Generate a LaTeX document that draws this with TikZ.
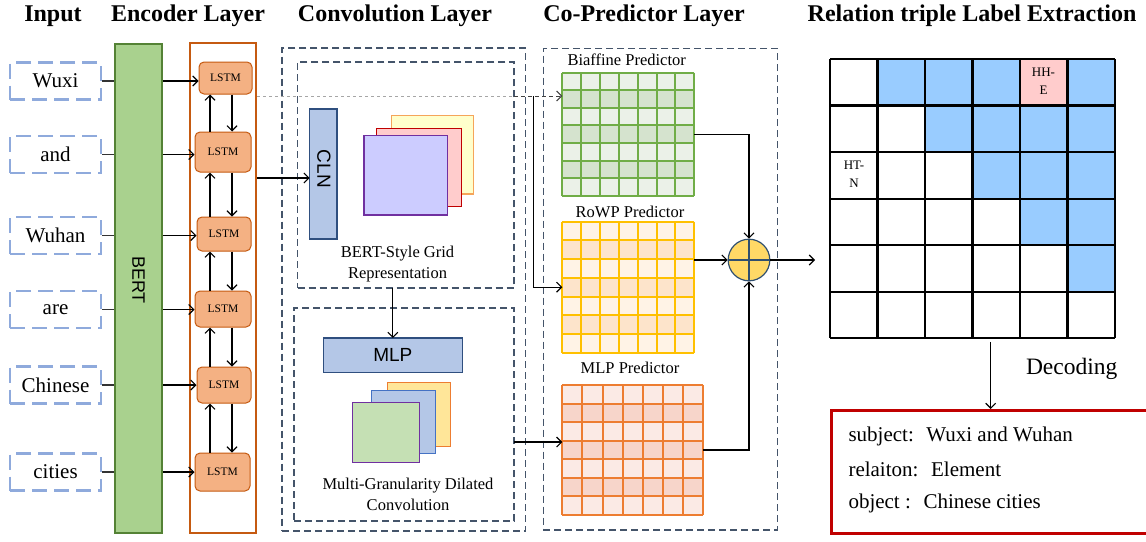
\documentclass[tikz,border=0pt]{standalone}
\usepackage{fontspec}
\setmainfont{Liberation Serif}
\setsansfont{Liberation Sans}
\usetikzlibrary{arrows.meta,calc}
\definecolor{inblue}{HTML}{8FAADC}
\definecolor{bertfill}{HTML}{A9D18E}
\definecolor{bertdraw}{HTML}{548235}
\definecolor{encor}{HTML}{C55A11}
\definecolor{lstmfill}{HTML}{F4B183}
\definecolor{navy}{HTML}{44546A}
\definecolor{clnfill}{HTML}{B4C7E7}
\definecolor{clndraw}{HTML}{2F4F7F}
\definecolor{yelfill}{HTML}{FFFFCC}
\definecolor{yeldraw}{HTML}{F5A55A}
\definecolor{pinkfill}{HTML}{FFCCCC}
\definecolor{reddraw}{HTML}{C00000}
\definecolor{purfill}{HTML}{CCCCFF}
\definecolor{purdraw}{HTML}{7030A0}
\definecolor{orfill}{HTML}{FFE699}
\definecolor{ordraw}{HTML}{ED7D31}
\definecolor{bluedraw}{HTML}{4472C4}
\definecolor{grnfill}{HTML}{C5E0B4}
\definecolor{bialine}{HTML}{70AD47}
\definecolor{bialight}{HTML}{EBF1E8}
\definecolor{biadark}{HTML}{D5E3CE}
\definecolor{rowline}{HTML}{FFC000}
\definecolor{rowlight}{HTML}{FFF3E6}
\definecolor{rowdark}{HTML}{FDE4CB}
\definecolor{mlpline}{HTML}{ED7D31}
\definecolor{mlplight}{HTML}{FBEAE5}
\definecolor{mlpdark}{HTML}{F7D5CA}
\definecolor{plusfill}{HTML}{FFD966}
\definecolor{plusdraw}{HTML}{2F4F6F}
\definecolor{cellblue}{HTML}{99CCFF}
\definecolor{cellpink}{HTML}{FFCCCC}
\newcommand\predgrid[8]{%
  \node[inner sep=0, outer sep=0, minimum width={#4-#2}, minimum height={#5-#3}, anchor=north west] (#1) at (#2,#3) {};
  \fill[#7] (#2,#3) rectangle (#4,#5);
  \foreach \i in {1,3,5}{\fill[#8] (#2,{#3+(#5-#3)*\i/7}) rectangle (#4,{#3+(#5-#3)*(\i+1)/7});}
  \foreach \i in {0,...,7}{
    \draw[#6, line width=2] ({#2+(#4-#2)*\i/7},#3) -- ({#2+(#4-#2)*\i/7},#5);
    \draw[#6, line width=2] (#2,{#3+(#5-#3)*\i/7}) -- (#4,{#3+(#5-#3)*\i/7});
  }
}
\begin{document}
\begin{tikzpicture}[x=1pt,y=-1pt,
  ttl/.style={font=\fontsize{24}{28}\selectfont\bfseries, anchor=base, inner sep=0},
  inbox/.style={draw=inblue, line width=2.2, dash pattern=on 15pt off 7pt, minimum width=91, minimum height=37, inner sep=0, font=\fontsize{21}{24}\selectfont},
  lstmbox/.style={draw=encor, fill=lstmfill, rounded corners=5, line width=1, inner sep=0, font=\fontsize{11.5}{13}\selectfont},
  arr/.style={-{Straight Barb[length=5pt,width=10pt]}, line width=1.1, black},
  ln/.style={line width=1.1, black!80},
  navybox/.style={draw=navy, line width=1.3, dash pattern=on 7pt off 4pt},
  shp/.style={inner sep=0, outer sep=0, anchor=north west, line width=1.2},
  lbl/.style={font=\fontsize{16.5}{21}\selectfont, align=center, inner sep=0},
  sflbl/.style={font=\sffamily\fontsize{19}{22}\selectfont, inner sep=0},
  cellt/.style={font=\fontsize{13}{18}\selectfont, align=center, inner sep=0},
  restxt/.style={font=\fontsize{21}{24}\selectfont, anchor=west, inner sep=0}
]
\useasboundingbox (0,0) rectangle (1146,541);
\fill[white] (0,0) rectangle (1146,541);

% titles
\node[ttl] (t1) at (53,21.5) {Input};
\node[ttl] (t2) at (188,21.5) {Encoder Layer};
\node[ttl] (t3) at (395,21.5) {Convolution Layer};
\node[ttl] (t4) at (644,21.5) {Co-Predictor Layer};
\node[ttl] (t5) at (972,21.5) {Relation triple Label Extraction};

% input words
\node[inbox] (w1) at (55.5,81) {Wuxi};
\node[inbox] (w2) at (55.5,154.5) {and};
\node[inbox] (w3) at (55.5,235.5) {Wuhan};
\node[inbox] (w4) at (55.5,309.5) {are};
\node[inbox] (w5) at (55.5,385) {Chinese};
\node[inbox] (w6) at (55.5,472) {cities};

% BERT
\node[draw=bertdraw, fill=bertfill, line width=2, minimum width=47, minimum height=489, inner sep=0] (bert) at (138.5,288.5) {};
\node[sflbl, rotate=-90, font=\sffamily\fontsize{18}{20}\selectfont] (bertlbl) at (138.5,280) {BERT};

% encoder box
\node[draw=encor, line width=2.5, minimum width=66, minimum height=490, inner sep=0] (enc) at (223,288) {};

% LSTMs
\node[lstmbox, minimum width=53, minimum height=32] (l1) at (225.5,78) {LSTM};
\node[lstmbox, minimum width=56, minimum height=40] (l2) at (223,152) {LSTM};
\node[lstmbox, minimum width=54, minimum height=34] (l3) at (224,234) {LSTM};
\node[lstmbox, minimum width=56, minimum height=36] (l4) at (223,309) {LSTM};
\node[lstmbox, minimum width=54, minimum height=36] (l5) at (224,385) {LSTM};
\node[lstmbox, minimum width=55, minimum height=38] (l6) at (222.5,472) {LSTM};

\coordinate (ux) at (210,0);
\coordinate (dx) at (232,0);
\foreach \a/\b in {l1/l2,l2/l3,l3/l4,l4/l5,l5/l6}{
  \draw[arr] (ux |- \b.north) -- (ux |- \a.south);
  \draw[arr] (dx |- \a.south) -- (dx |- \b.north);
}

\foreach \w/\l in {w1/l1,w2/l2,w3/l3,w4/l4,w5/l5,w6/l6}{
  \draw[ln] (\w.east) -- (\w.east -| bert.west);
  \draw[arr] (bert.east |- \w.east) -- (\l.west |- \w.east);
}

% convolution layer
\node[navybox, shp] (conv) at (282,48) [minimum width=243.7, minimum height=483] {};
\node[navybox, shp] (in1) at (297.7,62) [minimum width=216.3, minimum height=226] {};
\node[navybox, shp] (in2) at (294,308) [minimum width=220, minimum height=213] {};

\node[shp, draw=clndraw, fill=clnfill, minimum width=27.3, minimum height=130] (cln) at (309.7,109) {};
\node[sflbl, rotate=-90] (clnlbl) at (324,169) {CLN};
\coordinate (y178) at (0,178);
\draw[arr] (enc.east |- y178) -- (cln.west |- y178);

\node[shp, draw=yeldraw, fill=yelfill, minimum width=81.6, minimum height=78.7] (sq1) at (391.7,115.3) {};
\node[shp, draw=reddraw, fill=pinkfill, minimum width=85, minimum height=78.4] (sq2) at (376.7,128.3) {};
\node[shp, draw=purdraw, fill=purfill, minimum width=83.3, minimum height=79.3] (sq3) at (364,135.7) {};
\node[lbl] (gridlbl) at (397.5,264) {BERT-Style Grid\\Representation};

\node[shp, draw=clndraw, fill=clnfill, minimum width=139, minimum height=34.7] (mlp) at (323.3,338) {};
\node[sflbl] (mlplbl) at (mlp.center) {MLP};
\draw[arr] (mlp.north |- in1.south) -- (mlp.north);

\node[shp, draw=ordraw, fill=orfill, minimum width=63.4, minimum height=64.4] (s4) at (387.3,382.3) {};
\node[shp, draw=bluedraw, fill=clnfill, minimum width=64, minimum height=62.6] (s5) at (371.7,390.7) {};
\node[shp, draw=purdraw, fill=grnfill, minimum width=67, minimum height=60.4] (s6) at (352.3,402.3) {};
\node[lbl] (dillbl) at (408,494) {Multi-Granularity Dilated\\Convolution};

% co-predictor layer
\node[navybox, shp] (copred) at (543.3,48.3) [minimum width=234, minimum height=481.7] {};
\node[lbl] (bialbl) at (626.7,59.3) {Biaffine Predictor};
\node[lbl] (rowlbl) at (630,211.7) {RoWP Predictor};
\node[lbl] (mlpglbl) at (630,368.3) {MLP Predictor};
\predgrid{bia}{562.3}{72.7}{694.3}{195.7}{bialine}{bialight}{biadark}
\predgrid{rowp}{562.3}{221.7}{694.3}{352.7}{rowline}{rowlight}{rowdark}
\predgrid{mlpg}{562.3}{385}{703.3}{515}{mlpline}{mlplight}{mlpdark}

% dashed connection and branch
\coordinate (jn) at (533.3,96);
\draw[gray!70, line width=0.9, dash pattern=on 3pt off 3pt] (enc.east |- jn) -- (in1.east |- jn);
\draw[black!75, line width=1, dash pattern=on 4pt off 3pt, -{Straight Barb[length=5pt,width=10pt]}] (in1.east |- jn) -- (bia.west |- jn);
\draw[arr] (jn) |- (rowp.west);
\coordinate (y442) at (0,442);
\draw[arr] (in2.east |- y442) -- (mlpg.west |- y442);

% plus
\node[circle, draw=plusdraw, fill=plusfill, line width=1.2, minimum size=41.6, inner sep=0] (plus) at (749,260) {};
\draw[plusdraw, line width=1.2] (plus.north) -- (plus.south) (plus.west) -- (plus.east);
\draw[arr] (bia.east) -| (plus.north);
\draw[arr] (rowp.east |- plus.west) -- (plus.west);
\draw[arr] (mlpg.east) -| (plus.south);

% right grid
\node[inner sep=0, outer sep=0, anchor=north west, minimum width=285, minimum height=279.3] (rgrid) at (830,59) {};
\draw[arr, shorten >=15pt] (plus.east) -- (plus.east -| rgrid.west);
\foreach \r/\c in {1/2,1/3,1/4,1/6,2/3,2/4,2/5,2/6,3/4,3/5,3/6,4/5,4/6,5/6}{
  \fill[cellblue] ({830+47.5*(\c-1)},{59+46.55*(\r-1)}) rectangle ++(47.5,46.55);
}
\fill[cellpink] ({830+47.5*4},59) rectangle ++(47.5,46.55);
\foreach \i in {0,...,6}{
  \draw[black, line width=2.3] ({830+47.5*\i},59) -- ({830+47.5*\i},338.3);
  \draw[black, line width=2.3] (830,{59+46.55*\i}) -- (1115,{59+46.55*\i});
}
\node[cellt] (hhe) at (1043.5,81) {HH-\\E};
\node[cellt] (htn) at (854,174) {HT-\\N};

% decoding
\node[draw=reddraw, line width=3, anchor=north west, minimum width=340, minimum height=123.3, inner sep=0] (res) at (830,409) {};
\coordinate (dtop) at ([xshift=18.2pt,yshift=-3.5pt]rgrid.south);
\draw[arr] (dtop) -- (dtop |- res.north);
\node[font=\fontsize{23.5}{26}\selectfont, inner sep=0] (dec) at (1071.7,369.3) {Decoding};
\node[restxt] (r1) at (848.3,436.5) {subject:\hspace{0.6em}Wuxi and Wuhan};
\node[restxt] (r2) at (848.3,469.5) {relaiton:\hspace{0.6em}Element};
\node[restxt] (r3) at (848.3,503.5) {object :\hspace{0.6em}Chinese cities};
\end{tikzpicture}
\end{document}
